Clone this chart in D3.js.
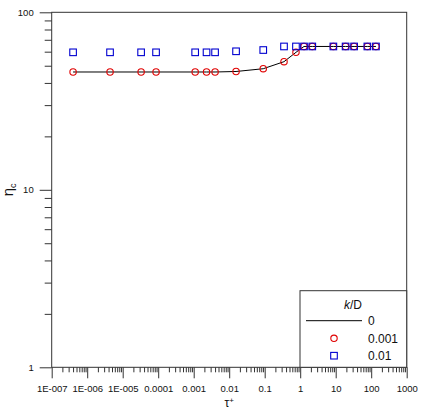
<!DOCTYPE html>
<html>
<head>
<meta charset="utf-8">
<script src="https://cdn.jsdelivr.net/npm/d3@7"></script>
<style>
  body { margin: 0; background: #fff; }
  svg { display: block; font-family: "Liberation Sans", Arial, sans-serif; }
</style>
</head>
<body>
<svg id="chart" width="426" height="410"></svg>
<script>
// ── data ──
const tau = [4e-7, 4.4e-6, 3.3e-5, 8.7e-5, 1.1e-3, 2.3e-3, 4e-3, 1.56e-2, 0.091, 0.35, 0.76, 1.28, 2.19, 8.6, 19, 33, 78, 136];
const eta0 = [46.1, 46.1, 46.1, 46.1, 46.1, 46.1, 46.1, 46.4, 48.1, 52.7, 59.5, 64.2, 64.2, 64.2, 64.2, 64.2, 64.2, 64.2];       // k/D = 0 (line)
const eta001 = [46.1, 46.1, 46.1, 46.1, 46.1, 46.1, 46.1, 46.4, 48.1, 52.7, 59.5, 64.2, 64.2, 64.2, 64.2, 64.2, 64.2, 64.2];     // k/D = 0.001
const eta01 = [59.5, 59.5, 59.5, 59.5, 59.5, 59.5, 59.5, 60.3, 61.3, 64.2, 64.2, 64.2, 64.2, 64.2, 64.2, 64.2, 64.2, 64.2];     // k/D = 0.01

const xTicks = [1e-7, 1e-6, 1e-5, 1e-4, 1e-3, 1e-2, 1e-1, 1, 10, 100, 1000];
const xTickLabels = ["1E-007", "1E-006", "1E-005", "0.0001", "0.001", "0.01", "0.1", "1", "10", "100", "1000"];
const yTicks = [1, 10, 100];
const yTickLabels = ["1", "10", "100"];
const legendTitle = "D";
const legendLabels = ["0", "0.001", "0.01"];

// ── layout ──
const svg = d3.select("#chart");
const width = +svg.attr("width");
const height = +svg.attr("height");
const margin = { top: 12.3, right: 19.3, bottom: 42.7, left: 51.7 };

const x = d3.scaleLog().domain([1e-7, 1000]).range([margin.left, width - margin.right]);
const y = d3.scaleLog().domain([1, 100]).range([height - margin.bottom, margin.top]);

const axisColor = "#333";
const red = "#e00000";
const blue = "#0000d0";

// minor tick values (2..9 per decade)
const minorX = [];
xTicks.slice(0, -1).forEach(d => { for (let k = 2; k <= 9; k++) minorX.push(d * k); });
const minorY = [];
yTicks.slice(0, -1).forEach(d => { for (let k = 2; k <= 9; k++) minorY.push(d * k); });

// ── axes ──
const xMinor = svg.append("g")
  .attr("transform", `translate(0,${height - margin.bottom})`)
  .call(d3.axisBottom(x).tickValues(minorX).tickSize(5).tickFormat(""));
const xMajor = svg.append("g")
  .attr("transform", `translate(0,${height - margin.bottom})`)
  .call(d3.axisBottom(x).tickValues(xTicks).tickSize(11).tickPadding(7)
    .tickFormat((d, i) => xTickLabels[i]));

const yMinor = svg.append("g")
  .attr("transform", `translate(${margin.left},0)`)
  .call(d3.axisLeft(y).tickValues(minorY).tickSize(7).tickFormat(""));
const yMajor = svg.append("g")
  .attr("transform", `translate(${margin.left},0)`)
  .call(d3.axisLeft(y).tickValues(yTicks).tickSize(12).tickPadding(6)
    .tickFormat((d, i) => yTickLabels[i]));

[xMinor, xMajor, yMinor, yMajor].forEach(g => {
  g.select(".domain").remove();
  g.selectAll("line").attr("stroke", axisColor);
  g.selectAll("text").attr("font-size", "9.5px").attr("fill", "#111")
    .attr("font-family", "'Liberation Sans', Arial, sans-serif");
});

// plot frame
svg.append("rect")
  .attr("x", margin.left)
  .attr("y", margin.top)
  .attr("width", width - margin.left - margin.right)
  .attr("height", height - margin.top - margin.bottom)
  .attr("fill", "none")
  .attr("stroke", axisColor)
  .attr("stroke-width", 1);

// axis titles
const xt = svg.append("text")
  .attr("x", (margin.left + width - margin.right) / 2)
  .attr("y", 407)
  .attr("text-anchor", "middle")
  .attr("font-size", "12px")
  .attr("fill", "#111");
xt.append("tspan").text("τ");
xt.append("tspan").attr("dy", -4.5).attr("font-size", "8px").text("+");

const yt = svg.append("text")
  .attr("transform", `translate(13,${(margin.top + height - margin.bottom) / 2}) rotate(-90)`)
  .attr("text-anchor", "middle")
  .attr("font-size", "15px")
  .attr("fill", "#111");
yt.append("tspan").text("η");
yt.append("tspan").attr("dy", 3).attr("font-size", "9px").text("c");

// ── series ──
const pts = tau.map((t, i) => ({ t, a: eta0[i], b: eta001[i], c: eta01[i] }));

svg.append("path")
  .datum(pts)
  .attr("fill", "none")
  .attr("stroke", "#000")
  .attr("stroke-width", 1)
  .attr("d", d3.line().x(d => x(d.t)).y(d => y(d.a)));

svg.selectAll(".c001")
  .data(pts)
  .enter()
  .append("circle")
  .attr("class", "c001")
  .attr("cx", d => x(d.t))
  .attr("cy", d => y(d.b))
  .attr("r", 3.2)
  .attr("fill", "none")
  .attr("stroke", red)
  .attr("stroke-width", 1.1);

svg.selectAll(".s01")
  .data(pts)
  .enter()
  .append("rect")
  .attr("class", "s01")
  .attr("x", d => x(d.t) - 3.3)
  .attr("y", d => y(d.c) - 3.3)
  .attr("width", 6.6)
  .attr("height", 6.6)
  .attr("fill", "none")
  .attr("stroke", blue)
  .attr("stroke-width", 1.1);

// ── legend ──
const lx = 300, ly = 290.7;
const legend = svg.append("g");
legend.append("rect")
  .attr("x", lx)
  .attr("y", ly)
  .attr("width", width - margin.right - lx)
  .attr("height", height - margin.bottom - ly)
  .attr("fill", "#fff")
  .attr("stroke", axisColor);

const lt = legend.append("text")
  .attr("x", 353)
  .attr("y", 309)
  .attr("text-anchor", "middle")
  .attr("font-size", "12px")
  .attr("fill", "#111");
lt.append("tspan").attr("font-style", "italic").text("k");
lt.append("tspan").text("/" + legendTitle);

legend.append("line")
  .attr("x1", 306).attr("x2", 362)
  .attr("y1", 320.7).attr("y2", 320.7)
  .attr("stroke", "#000");
legend.append("circle")
  .attr("cx", 334).attr("cy", 338.3).attr("r", 3.2)
  .attr("fill", "none").attr("stroke", red).attr("stroke-width", 1.1);
legend.append("rect")
  .attr("x", 334 - 3.3).attr("y", 355.7 - 3.3)
  .attr("width", 6.6).attr("height", 6.6)
  .attr("fill", "none").attr("stroke", blue).attr("stroke-width", 1.1);

legend.selectAll(".lab")
  .data(legendLabels)
  .enter()
  .append("text")
  .attr("class", "lab")
  .attr("x", 368)
  .attr("y", (d, i) => [324.5, 342.5, 360][i])
  .attr("font-size", "12px")
  .attr("fill", "#111")
  .text(d => d);
</script>
</body>
</html>
